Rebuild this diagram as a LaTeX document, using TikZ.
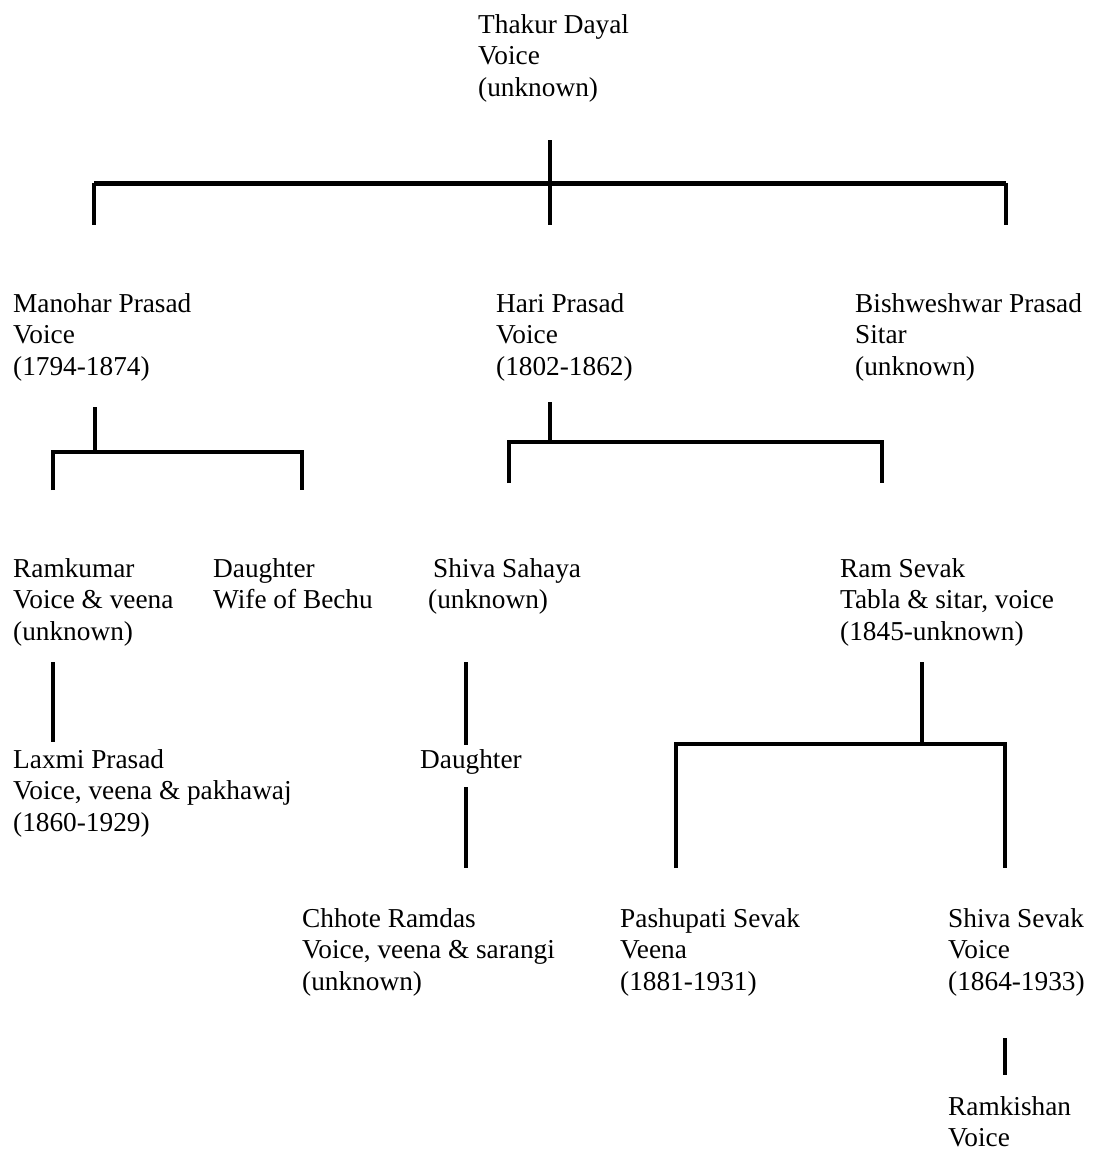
\documentclass[tikz,border=0pt]{standalone}
\usepackage{fontspec}
\setmainfont{Liberation Serif}
\begin{document}
\begin{tikzpicture}[x=1pt,y=-1pt,
  person/.style={anchor=north west, inner sep=0pt, align=left,
    font=\fontsize{27.3}{31.5}\selectfont},
  link/.style={line width=4pt},
  biglink/.style={line width=5pt}]
\useasboundingbox (0,0) rectangle (1094,1154);
\newcommand{\fl}{\rule{0pt}{22pt}}

% people
\node[person] (thakur)  at (478,11)  {\fl Thakur Dayal\\Voice\\(unknown)};
\node[person] (manohar) at (13,290)  {\fl Manohar Prasad\\Voice\\(1794-1874)};
\node[person] (hari)    at (496,290) {\fl Hari Prasad\\Voice\\(1802-1862)};
\node[person] (bish)    at (855,290) {\fl Bishweshwar Prasad\\Sitar\\(unknown)};
\node[person] (ramkumar) at (13,555) {\fl Ramkumar\\Voice \& veena\\(unknown)};
\node[person] (daughterA) at (213,555) {\fl Daughter\\Wife of Bechu};
\node[person] (shivasah) at (428,555) {\fl \hspace{5pt}Shiva Sahaya\\(unknown)};
\node[person] (ramsevak) at (840,555) {\fl Ram Sevak\\Tabla \& sitar, voice\\(1845-unknown)};
\node[person] (laxmi)   at (13,746)  {\fl Laxmi Prasad\\Voice, veena \& pakhawaj\\(1860-1929)};
\node[person] (daughterB) at (420,746) {\fl Daughter};
\node[person] (chhote)  at (302,905)  {\fl Chhote Ramdas\\Voice, veena \& sarangi\\(unknown)};
\node[person] (pashu)   at (620,905)  {\fl Pashupati Sevak\\Veena\\(1881-1931)};
\node[person] (shivasev) at (948,905) {\fl Shiva Sevak\\Voice\\(1864-1933)};
\node[person] (ramkishan) at (948,1093) {\fl Ramkishan\\Voice};

% bracket points
\coordinate (t0) at (550,140);
\coordinate (tL) at (94,183);  \coordinate (tM) at (550,183); \coordinate (tR) at (1006,183);
\coordinate (tLd) at (94,225); \coordinate (tMd) at (550,225); \coordinate (tRd) at (1006,225);

\coordinate (m0) at (95,407);  \coordinate (mJ) at (95,452);
\coordinate (mL) at (53,452);  \coordinate (mR) at (302,452);
\coordinate (mLd) at (53,490); \coordinate (mRd) at (302,490);

\coordinate (h0) at (550,402); \coordinate (hJ) at (550,442);
\coordinate (hL) at (509,442); \coordinate (hR) at (882,442);
\coordinate (hLd) at (509,483); \coordinate (hRd) at (882,483);

\coordinate (rk0) at (53,662); \coordinate (rk1) at (53,742);
\coordinate (ss0) at (466,662); \coordinate (ss1) at (466,745);
\coordinate (ss2) at (466,787); \coordinate (ss3) at (466,868);

\coordinate (r0) at (922,662); \coordinate (rJ) at (922,744);
\coordinate (rL) at (676,744); \coordinate (rR) at (1005,744);
\coordinate (rLd) at (676,868); \coordinate (rRd) at (1005,868);

\coordinate (sv0) at (1005,1038); \coordinate (sv1) at (1005,1075);

% connectors
\draw[link] (t0) -- (tMd);
\draw[biglink] (tL) -- (tR);
\draw[link] (tL) -- (tLd);
\draw[link] (tR) -- (tRd);

\draw[link] (m0) -- (mJ);
\draw[link] (mLd) -- (mL) -- (mR) -- (mRd);

\draw[link] (h0) -- (hJ);
\draw[link] (hLd) -- (hL) -- (hR) -- (hRd);

\draw[link] (rk0) -- (rk1);
\draw[link] (ss0) -- (ss1);
\draw[link] (ss2) -- (ss3);

\draw[link] (r0) -- (rJ);
\draw[link] (rLd) -- (rL) -- (rR) -- (rRd);

\draw[link] (sv0) -- (sv1);
\end{tikzpicture}
\end{document}
